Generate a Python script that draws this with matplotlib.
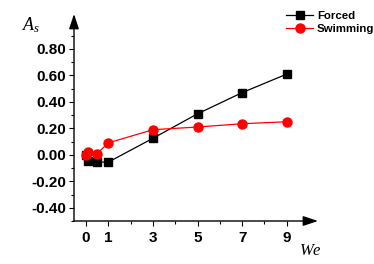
import numpy as np
import matplotlib
matplotlib.use('Agg')
import matplotlib.pyplot as plt
from matplotlib.ticker import FixedLocator, FormatStrFormatter

# data
we = [0, 0.1, 0.5, 1, 3, 5, 7, 9]
forced = [0.0, -0.045, -0.055, -0.055, 0.125, 0.31, 0.47, 0.61]
swimming = [0.0, 0.02, 0.01, 0.09, 0.19, 0.21, 0.235, 0.25]

x_major = [0, 1, 3, 5, 7, 9]
x_minor = [2, 4, 6, 8]
y_major = [-0.4, -0.2, 0.0, 0.2, 0.4, 0.6, 0.8]
y_minor = [-0.5, -0.3, -0.1, 0.1, 0.3, 0.5, 0.7, 0.9]

plt.rcParams['font.family'] = ['Liberation Sans', 'DejaVu Sans']
plt.rcParams['mathtext.fontset'] = 'custom'
plt.rcParams['mathtext.it'] = 'Liberation Serif:italic'
plt.rcParams['mathtext.rm'] = 'Liberation Serif'

fig = plt.figure(figsize=(3.74, 2.64), dpi=100)
ax = fig.add_axes([74/374, 1 - 221/264, (318 - 74)/374, (221 - 14)/264])

ax.plot(we, forced, color='black', marker='s', markersize=5.2, lw=0.9, label='Forced', clip_on=False, zorder=3)
ax.plot(we, swimming, color='red', marker='o', markersize=6.5, lw=0.9, label='Swimming', clip_on=False, zorder=4)

ax.set_xlim(-0.54, 10.4)
ax.set_ylim(-0.5, 1.064)

for s in ['top', 'right', 'left', 'bottom']:
    ax.spines[s].set_visible(False)

# axis lines with arrows
ap = dict(arrowstyle='-|>,head_length=0.6,head_width=0.2', color='black', lw=1.0,
          shrinkA=0, shrinkB=0, mutation_scale=15)
ax.annotate('', xy=(1, 0), xytext=(0, 0), xycoords='axes fraction', arrowprops=ap)
ax.annotate('', xy=(0, 1), xytext=(0, 0), xycoords='axes fraction', arrowprops=ap)

ax.xaxis.set_major_locator(FixedLocator(x_major))
ax.xaxis.set_minor_locator(FixedLocator(x_minor))
ax.yaxis.set_major_locator(FixedLocator(y_major))
ax.yaxis.set_minor_locator(FixedLocator(y_minor))
ax.yaxis.set_major_formatter(FormatStrFormatter('%.2f'))

ax.tick_params(which='major', length=3.5, width=0.8, labelsize=11)
ax.tick_params(which='minor', length=2, width=0.8)
ax.tick_params(axis='y', pad=2)
ax.tick_params(axis='x', pad=4)
for lab in ax.get_xticklabels() + ax.get_yticklabels():
    lab.set_fontweight('bold')

leg = ax.legend(loc='upper left', bbox_to_anchor=(286/374, 1 - 11/264), bbox_transform=fig.transFigure,
                frameon=False, fontsize=8.2, handlelength=2.4, handletextpad=0.3,
                labelspacing=0.3, borderpad=0, borderaxespad=0)
for t in leg.get_texts():
    t.set_fontweight('bold')

fig.text(22/374, 1 - 30/264, r'$A_s$', fontsize=13)
fig.text(299/374, 1 - 255/264, r'$We$', fontsize=12)

plt.savefig('out.png', dpi=100)
